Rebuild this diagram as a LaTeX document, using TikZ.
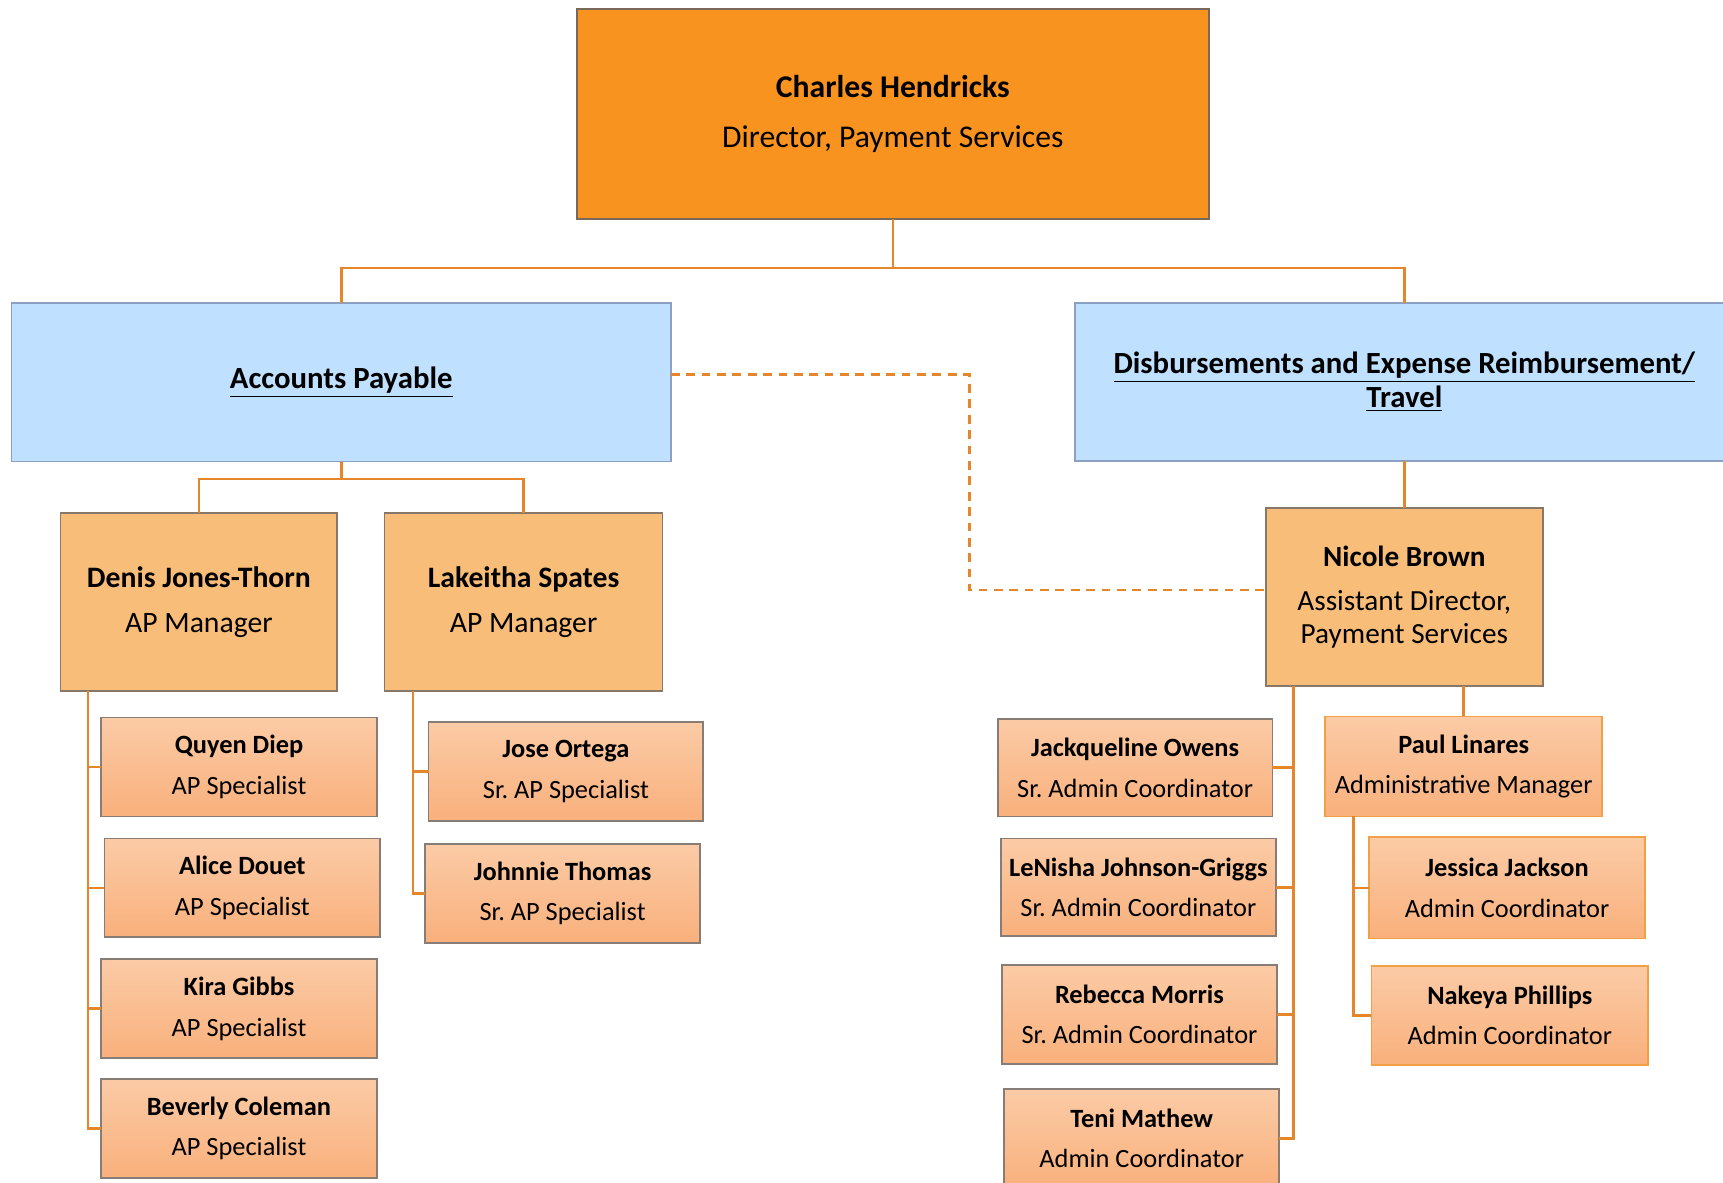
\documentclass[tikz,border=0pt]{standalone}
\usepackage{fontspec}
\setmainfont{Carlito}
\usetikzlibrary{calc}
\frenchspacing
\definecolor{lineor}{RGB}{229,134,43}
\definecolor{topfill}{RGB}{247,147,30}
\definecolor{topdraw}{RGB}{120,105,90}
\definecolor{bluefill}{RGB}{191,224,254}
\definecolor{bluedraw}{RGB}{140,160,195}
\definecolor{mgrfill}{RGB}{248,189,120}
\definecolor{mgrdraw}{RGB}{135,120,105}
\definecolor{spectop}{RGB}{251,203,166}
\definecolor{specbot}{RGB}{249,176,124}
\definecolor{specdraw}{RGB}{135,125,118}
\definecolor{orgdraw}{RGB}{242,160,70}
\begin{document}
\begin{tikzpicture}[x=0.5pt,y=-0.5pt,
  box/.style={rectangle, inner sep=0pt, outer sep=0pt, align=center, line width=0.8pt, text=black},
  topbox/.style={box, fill=topfill, draw=topdraw, minimum width=287.5pt, minimum height=95.5pt, font=\fontsize{14.4}{22.5}\selectfont},
  bluebox/.style={box, fill=bluefill, draw=bluedraw, minimum width=300pt, minimum height=72pt, font=\fontsize{14}{15.5}\selectfont\bfseries},
  mgrbox/.style={box, fill=mgrfill, draw=mgrdraw, minimum width=126pt, minimum height=81pt, font=\fontsize{13.5}{20.5}\selectfont},
  specbox/.style={box, top color=spectop, bottom color=specbot, draw=specdraw, minimum width=125.5pt, minimum height=45pt, font=\fontsize{12}{18.5}\selectfont},
  specor/.style={specbox, draw=orgdraw},
  conn/.style={draw=lineor, line width=1.2pt},
  dotconn/.style={draw=lineor, line width=1.2pt, dash pattern=on 4pt off 3pt}
]
\useasboundingbox (0,0) rectangle (1568,1076);
\clip (0,0) rectangle (1568,1076);

% nodes
\node[topbox] (top) at (812.5,103.5) {\textbf{Charles Hendricks}\\Director, Payment Services};
\node[bluebox] (ap) at (310.5,348) {\underline{Accounts Payable}};
\node[bluebox] (der) at (1278,347.5) {\underline{Disbursements and Expense Reimbursement/}\\\underline{Travel}};
\node[mgrbox] (denis) at (181,548) {\textbf{Denis Jones-Thorn}\\AP Manager};
\node[mgrbox, minimum width=126.5pt] (lake) at (476.5,548) {\textbf{Lakeitha Spates}\\AP Manager};
\node[mgrbox, font=\fontsize{13.3}{15}\selectfont] (nicole) at (1278,543) {\textbf{Nicole Brown}\\[5pt]Assistant Director,\\Payment Services};

\node[specbox] (quyen) at (217.5,698) {\textbf{Quyen Diep}\\AP Specialist};
\node[specbox] (alice) at (220.5,808) {\textbf{Alice Douet}\\AP Specialist};
\node[specbox] (kira) at (217.5,918) {\textbf{Kira Gibbs}\\AP Specialist};
\node[specbox] (beverly) at (217.5,1027) {\textbf{Beverly Coleman}\\AP Specialist};

\node[specbox, minimum width=125pt] (jose) at (515,702) {\textbf{Jose Ortega}\\Sr. AP Specialist};
\node[specbox, minimum width=125pt] (johnnie) at (512,813) {\textbf{Johnnie Thomas}\\Sr. AP Specialist};

\node[specbox, minimum width=125pt, minimum height=44.5pt] (jackq) at (1033,698.5) {\textbf{Jackqueline Owens}\\Sr. Admin Coordinator};
\node[specbox, minimum width=125pt, minimum height=44.5pt] (lenisha) at (1036,807.5) {\textbf{LeNisha Johnson-Griggs}\\Sr. Admin Coordinator};
\node[specbox, minimum width=125pt] (rebecca) at (1037,923) {\textbf{Rebecca Morris}\\Sr. Admin Coordinator};
\node[specbox, minimum width=125pt] (teni) at (1039,1036) {\textbf{Teni Mathew}\\Admin Coordinator};

\node[specor, minimum width=126pt, minimum height=45.5pt] (paul) at (1332,697.5) {\textbf{Paul Linares}\\Administrative Manager};
\node[specor, minimum height=46pt] (jessica) at (1371.5,808) {\textbf{Jessica Jackson}\\Admin Coordinator};
\node[specor, minimum width=126pt] (nakeya) at (1374,924) {\textbf{Nakeya Phillips}\\Admin Coordinator};

% helper coordinates
\coordinate (y244) at (0,244);
\coordinate (y436) at (0,436);
\coordinate (x882) at (882,0);
\coordinate (bus1) at (top.south |- y244);
\coordinate (bus2) at (ap.south |- y436);
\coordinate (dsp) at ([xshift=12.5pt]denis.south west);
\coordinate (lsp) at ([xshift=13pt]lake.south west);
\coordinate (nsp) at ([xshift=12.5pt]nicole.south west);
\coordinate (psp) at ([xshift=13pt]paul.south west);
\coordinate (dA) at ([yshift=3.5pt]ap.east);
\coordinate (dB) at ([yshift=3pt]nicole.west);

% connectors
\draw[conn] (top.south) -- (bus1);
\draw[conn] (ap.north) |- (bus1) -| (der.north);
\draw[conn] (ap.south) -- (bus2);
\draw[conn] (denis.north) |- (bus2) -| (lake.north);
\draw[conn] (der.south) -- (nicole.north);
\draw[conn] (nicole.south -| paul.north) -- (paul.north);

\draw[conn] (dsp) |- (quyen.west);
\draw[conn] (dsp) |- (alice.west);
\draw[conn] (dsp) |- (kira.west);
\draw[conn] (dsp) |- (beverly.west);

\draw[conn] (lsp) |- (jose.west);
\draw[conn] (lsp) |- (johnnie.west);

\draw[conn] (nsp) |- (jackq.east);
\draw[conn] (nsp) |- (lenisha.east);
\draw[conn] (nsp) |- (rebecca.east);
\draw[conn] (nsp) |- (teni.east);

\draw[conn] (psp) |- (jessica.west);
\draw[conn] (psp) |- (nakeya.west);

\draw[dotconn] (dA) -| (x882 |- dB) -- (dB);
\end{tikzpicture}
\end{document}
